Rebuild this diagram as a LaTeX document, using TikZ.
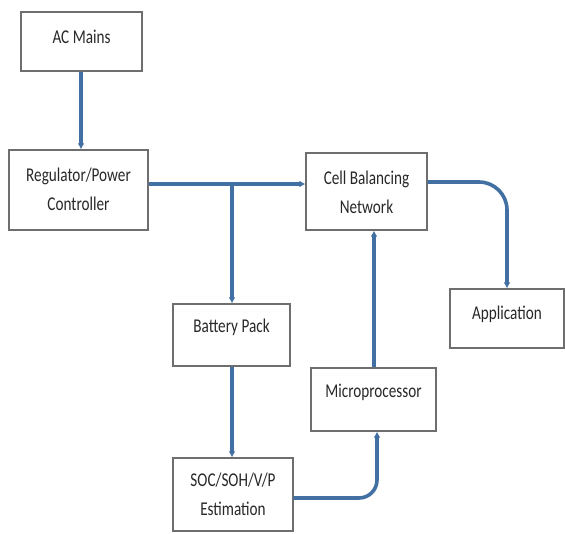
\documentclass[tikz,border=0pt]{standalone}
\usepackage{fontspec}
\setmainfont[FakeStretch=0.78]{Carlito}
\usetikzlibrary{arrows.meta}
\definecolor{lineblue}{RGB}{66,112,163}
\definecolor{boxgray}{RGB}{110,110,110}
\definecolor{txtgray}{RGB}{40,40,40}
\begin{document}
\begin{tikzpicture}[x=1pt,y=-1pt,
  box/.style={draw=boxgray, line width=1.4pt, fill=white, inner sep=0pt, rectangle},
  txt/.style={text=txtgray, align=center, inner sep=0pt, font=\fontsize{19.5}{29}\selectfont},
  conn/.style={draw=lineblue, line width=3.6pt, -{Latex[length=6pt,width=7pt]}},
  plain/.style={draw=lineblue, line width=3.6pt}]
\useasboundingbox (0,0) rectangle (565,533);
\fill[white] (0,0) rectangle (565,533);
% boxes
\node[box, minimum width=121pt, minimum height=59pt] (ac) at (81.5,41.5) {};
\node[box, minimum width=139pt, minimum height=80pt] (reg) at (78.5,190) {};
\node[box, minimum width=121pt, minimum height=77pt] (cb) at (366.5,191.5) {};
\node[box, minimum width=117pt, minimum height=62pt] (bp) at (231.5,335) {};
\node[box, minimum width=114pt, minimum height=59pt] (app) at (507,318.5) {};
\node[box, minimum width=125pt, minimum height=63pt] (mp) at (373.5,399.5) {};
\node[box, minimum width=120pt, minimum height=73pt] (soc) at (233,494.5) {};
% texts
\node[txt] (act) at (81.5,37) {AC Mains};
\node[txt] (regt) at (78.5,189) {Regulator/Power\\Controller};
\node[txt] (cbt) at (366.5,192) {Cell Balancing\\Network};
\node[txt] (bpt) at (231.5,327) {Battery Pack};
\node[txt] (appt) at (507,314) {Application};
\node[txt] (mpt) at (373.5,392) {Microprocessor};
\node[txt] (soct) at (233,494) {SOC/SOH/V/P\\Estimation};
% connectors
\coordinate (j) at (232,184);
\coordinate (acx) at (81,0);
\coordinate (mpx) at (374,0);
\coordinate (mpin) at (377,0);
\draw[conn] (ac.south -| acx) -- (reg.north -| acx);
\draw[conn] (reg.east |- j) -- (cb.west |- j);
\draw[conn] (j) -- (bp.north -| j);
\draw[conn, rounded corners=28pt] ([yshift=9.5pt]cb.east) -| (app.north);
\draw[conn] (bp.south -| j) -- (soc.north -| j);
\draw[conn, rounded corners=18pt] ([yshift=-3.5pt]soc.east) -| (mp.south -| mpin);
\draw[conn] (mp.north -| mpx) -- (cb.south -| mpx);
\end{tikzpicture}
\end{document}
